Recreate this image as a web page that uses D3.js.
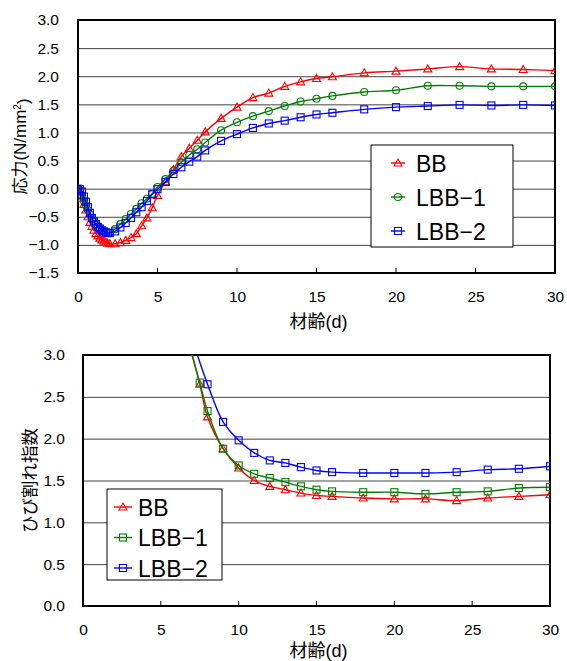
<!DOCTYPE html>
<html>

<head>
  <meta charset="utf-8">
  <script src="https://d3js.org/d3.v7.min.js"></script>
  <style>
    body { margin: 0; background: #fff; }
    text { font-family: "Liberation Sans", "Noto Sans CJK JP", sans-serif; fill: #000; }
  </style>
</head>

<body>
  <svg id="chart" width="567" height="661"></svg>
  <script>
    // ---- top chart: stress (N/mm2) vs age (d)
    const stressDays = [0, 0.125, 0.25, 0.375, 0.5, 0.625, 0.75, 0.875, 1, 1.125, 1.25, 1.375, 1.5, 1.625, 1.75, 1.875, 2,
      2.333, 2.667, 3, 3.333, 3.667, 4, 4.333, 4.667, 5, 5.5, 6, 6.5, 7, 7.5, 8,
      9, 10, 11, 12, 13, 14, 15, 16, 18, 20, 22, 24, 26, 28, 30];
    const stressBB = [0, -0.06, -0.17, -0.28, -0.38, -0.5, -0.6, -0.67, -0.74, -0.8, -0.84, -0.88, -0.91, -0.93, -0.95, -0.97, -0.98,
      -0.98, -0.96, -0.92, -0.87, -0.8, -0.66, -0.52, -0.34, -0.12, 0.12, 0.34, 0.57, 0.72, 0.86, 1.01,
      1.25, 1.45, 1.62, 1.70, 1.82, 1.90, 1.96, 1.99, 2.06, 2.09, 2.13, 2.17, 2.13, 2.12, 2.10];
    const stressLBB1 = [0, -0.03, -0.12, -0.22, -0.3, -0.38, -0.46, -0.53, -0.59, -0.64, -0.68, -0.71, -0.74, -0.76, -0.77, -0.78, -0.78,
      -0.72, -0.63, -0.54, -0.45, -0.36, -0.26, -0.18, -0.09, 0.03, 0.17, 0.32, 0.47, 0.6, 0.7, 0.82,
      1.04, 1.18, 1.29, 1.38, 1.47, 1.55, 1.60, 1.65, 1.72, 1.75, 1.83, 1.83, 1.82, 1.82, 1.82];
    const stressLBB2 = [0, -0.01, -0.05, -0.14, -0.23, -0.33, -0.43, -0.52, -0.58, -0.63, -0.68, -0.71, -0.74, -0.76, -0.78, -0.79, -0.79,
      -0.76, -0.69, -0.61, -0.52, -0.42, -0.33, -0.22, -0.1, -0.01, 0.12, 0.26, 0.38, 0.48, 0.57, 0.68,
      0.85, 0.97, 1.08, 1.16, 1.21, 1.27, 1.32, 1.35, 1.41, 1.45, 1.47, 1.49, 1.48, 1.49, 1.48];
    const stressTicksY = [-1.5, -1, -0.5, 0, 0.5, 1, 1.5, 2, 2.5, 3];

    // ---- bottom chart: cracking index vs age (d)
    const crackDays = [6.5, 7, 7.5, 8, 9, 10, 11, 12, 13, 14, 15, 16, 18, 20, 22, 24, 26, 28, 30];
    const crackBB = [3.35, null, 2.65, 2.26, 1.88, 1.65, 1.50, 1.43, 1.39, 1.35, 1.32, 1.31, 1.29, 1.28, 1.28, 1.26, 1.29, 1.31, 1.33];
    const crackLBB1 = [3.35, null, 2.67, 2.33, 1.88, 1.68, 1.58, 1.53, 1.48, 1.43, 1.39, 1.37, 1.36, 1.36, 1.34, 1.36, 1.37, 1.41, 1.42];
    const crackLBB2 = [null, 3.2, null, 2.65, 2.2, 1.98, 1.83, 1.74, 1.71, 1.66, 1.62, 1.60, 1.59, 1.59, 1.59, 1.60, 1.63, 1.64, 1.67];
    const crackTicksY = [0, 0.5, 1, 1.5, 2, 2.5, 3];

    const dayTicks = [0, 5, 10, 15, 20, 25, 30];
    const seriesNames = ["BB", "LBB\u22121", "LBB\u22122"];
    const seriesColors = ["#ff0000", "#008000", "#0000ff"];

    const svg = d3.select('svg#chart');
    const fmt = d => d3.format(".1f")(d).replace("-", "\u2212");

    function marker(g, shape, color) {
      if (shape == "tri") {
        g.append('path').attr('d', 'M0,-4L4,3L-4,3Z')
      } else if (shape == "circle") {
        g.append('circle').attr('r', 3.5)
      } else {
        g.append('rect').attr('x', -3.5).attr('y', -3.5).attr('width', 7).attr('height', 7)
      }
      g.selectAll('*').attr('fill', 'none').attr('stroke', color).attr('stroke-width', 1.1);
    }

    function drawPanel(opt) {
      const { id, box, yDomain, yTicks, days, series, shapes, yTitle, legendBox, legendStep, lineLen } = opt;
      const xScale = d3.scaleLinear().domain([0, 30]).range([box.left, box.right]);
      const yScale = d3.scaleLinear().domain(yDomain).range([box.bottom, box.top]);
      const w = box.right - box.left;

      svg.append('clipPath').attr('id', 'clip' + id)
        .append('rect').attr('x', box.left).attr('y', box.top)
        .attr('width', w).attr('height', box.bottom - box.top);

      // horizontal gridlines
      svg.append('g')
        .attr('transform', `translate(${box.left},0)`)
        .call(d3.axisLeft(yScale).tickValues(yTicks).tickSize(-w).tickFormat(""))
        .call(g => g.select('.domain').remove())
        .call(g => g.selectAll('line').attr('stroke', '#444').attr('stroke-width', 1));

      // y tick labels
      svg.append('g')
        .attr('transform', `translate(${box.left},0)`)
        .call(d3.axisLeft(yScale).tickValues(yTicks).tickSize(0).tickPadding(opt.yPad).tickFormat(fmt))
        .call(g => g.select('.domain').remove())
        .call(g => g.selectAll('text').style('font-size', '15.5px'));

      // x tick labels
      svg.append('g')
        .attr('transform', `translate(0,${box.bottom})`)
        .call(d3.axisBottom(xScale).tickValues(dayTicks).tickSize(0).tickPadding(18).tickFormat(d3.format("d")))
        .call(g => g.select('.domain').remove())
        .call(g => g.selectAll('text').style('font-size', '15.5px'));

      // inner x ticks
      svg.append('g').selectAll('line').data(dayTicks)
        .join('line')
        .attr('x1', d => xScale(d)).attr('x2', d => xScale(d))
        .attr('y1', box.bottom).attr('y2', box.bottom - 5)
        .attr('stroke', '#000').attr('stroke-width', 1);

      // frame
      svg.append('rect')
        .attr('x', box.left).attr('y', box.top)
        .attr('width', w).attr('height', box.bottom - box.top)
        .attr('fill', 'none').attr('stroke', '#000').attr('stroke-width', 2);

      // series
      const plot = svg.append('g').attr('clip-path', `url(#clip${id})`);
      const line = d3.line()
        .x(d => xScale(d[0])).y(d => yScale(d[1]))
        .curve(d3.curveCatmullRom.alpha(0.5));
      series.forEach((vals, i) => {
        const pts = days.map((d, j) => [d, vals[j]]).filter(p => p[1] != null);
        plot.append('path').datum(pts)
          .attr('d', line)
          .attr('fill', 'none')
          .attr('stroke', seriesColors[i])
          .attr('stroke-width', 1.4);
        plot.append('g').selectAll('g').data(pts)
          .join('g')
          .attr('transform', p => `translate(${xScale(p[0])},${yScale(p[1])})`)
          .each(function () { marker(d3.select(this), shapes[i], seriesColors[i]); });
      });

      // legend
      const legend = svg.append('g');
      legend.append('rect')
        .attr('x', legendBox.x).attr('y', legendBox.y)
        .attr('width', legendBox.w).attr('height', legendBox.h)
        .attr('fill', '#fff').attr('stroke', '#000').attr('stroke-width', 1);
      seriesNames.forEach((name, i) => {
        const cy = legendBox.row0 + i * legendStep;
        legend.append('line')
          .attr('x1', legendBox.lineX).attr('x2', legendBox.lineX + lineLen)
          .attr('y1', cy).attr('y2', cy)
          .attr('stroke', seriesColors[i]).attr('stroke-width', 1.4);
        const m = legend.append('g').attr('transform', `translate(${legendBox.lineX + lineLen / 2},${cy})`);
        marker(m, shapes[i], seriesColors[i]);
        legend.append('text')
          .attr('x', legendBox.textX).attr('y', cy + 8.5)
          .style('font-size', '23px')
          .text(name);
      });

      // axis titles
      svg.append('text')
        .attr('x', (box.left + box.right) / 2 + 2)
        .attr('y', box.bottom + opt.xTitleDy)
        .style('text-anchor', 'middle')
        .style('font-size', '18px')
        .text("材齢(d)");

      const yt = svg.append('text')
        .attr('transform', `translate(${opt.yTitleX},${(box.top + box.bottom) / 2}) rotate(-90)`)
        .attr('dy', '0.35em')
        .style('text-anchor', 'middle')
        .style('font-size', '17px');
      yTitle(yt);
    }

    drawPanel({
      id: 1,
      box: { left: 78, top: 20, right: 555, bottom: 273 },
      yDomain: [-1.5, 3], yTicks: stressTicksY, yPad: 19,
      days: stressDays,
      series: [stressBB, stressLBB1, stressLBB2],
      shapes: ["tri", "circle", "square"],
      xTitleDy: 55,
      yTitleX: 20,
      yTitle: t => {
        t.append('tspan').text("応力(N/mm");
        t.append('tspan').attr('dy', '-0.45em').style('font-size', '10px').text("2");
        t.append('tspan').attr('dy', '0.45em').text(")");
      },
      legendBox: { x: 371, y: 145, w: 142, h: 102, row0: 163, lineX: 391, textX: 416 },
      legendStep: 34, lineLen: 14
    });

    drawPanel({
      id: 2,
      box: { left: 83, top: 355, right: 550, bottom: 606 },
      yDomain: [0, 3], yTicks: crackTicksY, yPad: 18,
      days: crackDays,
      series: [crackBB, crackLBB1, crackLBB2],
      shapes: ["tri", "square", "square"],
      xTitleDy: 51,
      yTitleX: 30,
      yTitle: t => t.text("ひび割れ指数").style('font-size', '17.5px'),
      legendBox: { x: 107, y: 489, w: 115, h: 91, row0: 507, lineX: 114, textX: 138 },
      legendStep: 30.5, lineLen: 18
    });
  </script>
</body>

</html>
